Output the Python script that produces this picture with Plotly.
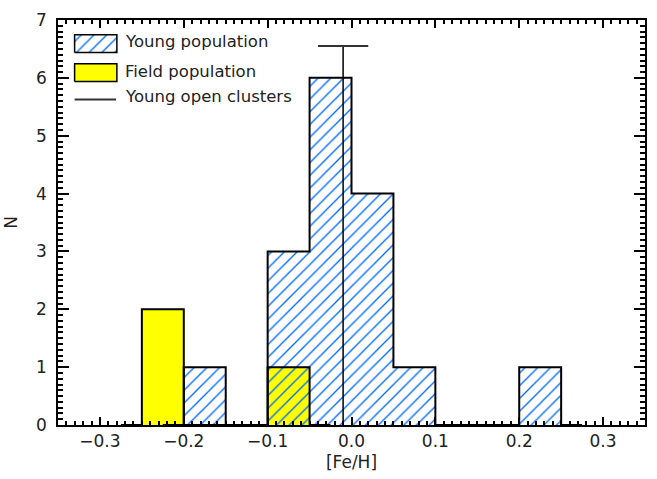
import plotly.graph_objects as go

# Histogram bins (bin centres, width 0.05 dex) and counts
young_centers = [-0.225, -0.175, -0.125, -0.075, -0.025, 0.025, 0.075, 0.125, 0.175, 0.225, 0.275]
young_counts = [0, 1, 0, 3, 6, 4, 1, 0, 0, 1, 0]
field_centers = [-0.275, -0.225, -0.175, -0.125, -0.075, -0.025]
field_counts = [0, 2, 0, 0, 1, 0]
bin_width = 0.05

# Young open clusters: mean [Fe/H], dispersion and marker height
cluster_mean = -0.01
cluster_sigma = 0.03
cluster_height = 6.55

X_RANGE = [-0.35, 0.35]
Y_RANGE = [0, 7]

HATCH = "rgb(0,105,255)"
YELLOW = "#ffff00"
FONT = "DejaVu Sans"
TXT = "#222222"
HATCH_PATTERN = dict(shape="/", fgcolor=HATCH, fgopacity=1, size=9, solidity=0.15)


def fx(f):
    """Fraction of the plot width -> data x."""
    return X_RANGE[0] + f * (X_RANGE[1] - X_RANGE[0])


def fy(f):
    """Fraction of the plot height -> data y."""
    return Y_RANGE[0] + f * (Y_RANGE[1] - Y_RANGE[0])


fig = go.Figure()

# Field population: solid yellow bars
fig.add_trace(go.Bar(
    x=field_centers, y=field_counts, width=bin_width,
    marker=dict(color=YELLOW, line=dict(width=0)),
    showlegend=False, hoverinfo="skip",
))

# Young population: hatched bars with transparent background
fig.add_trace(go.Bar(
    x=young_centers, y=young_counts, width=bin_width,
    marker=dict(color="rgba(0,0,0,0)", line=dict(width=0),
                pattern=dict(HATCH_PATTERN, bgcolor="rgba(0,0,0,0)")),
    showlegend=False, hoverinfo="skip",
))

# Step outlines of both histograms
for centers, counts in ((field_centers, field_counts), (young_centers, young_counts)):
    fig.add_trace(go.Scatter(
        x=centers, y=counts, mode="lines",
        line=dict(color="black", width=2, shape="hvh"),
        showlegend=False, hoverinfo="skip",
    ))

# Open cluster mean with its dispersion
fig.add_trace(go.Scatter(
    x=[cluster_mean, cluster_mean], y=[0, cluster_height], mode="lines",
    line=dict(color="black", width=1.5),
    showlegend=False, hoverinfo="skip",
))
fig.add_trace(go.Scatter(
    x=[cluster_mean], y=[cluster_height], mode="markers",
    marker=dict(size=1, color="rgba(0,0,0,0)"),
    error_x=dict(type="data", array=[cluster_sigma], color="#333333", thickness=2, width=0),
    showlegend=False, hoverinfo="skip",
))

# Legend key samples, placed by fractions of the plot area
lx0, lx1 = fx(0.0283), fx(0.1003)
keys = [
    (0.920, 0.9634, dict(fill="toself", fillpattern=dict(HATCH_PATTERN, bgcolor="white"))),
    (0.848, 0.892, dict(fill="toself", fillcolor=YELLOW)),
]
for b, t, fill_opts in keys:
    fig.add_trace(go.Scatter(
        x=[lx0, lx1, lx1, lx0, lx0], y=[fy(b), fy(b), fy(t), fy(t), fy(b)],
        mode="lines", line=dict(color="black", width=1.5),
        showlegend=False, hoverinfo="skip", **fill_opts,
    ))
fig.add_trace(go.Scatter(
    x=[lx0, fx(0.099)], y=[fy(0.804), fy(0.804)], mode="lines",
    line=dict(color="#333333", width=2),
    showlegend=False, hoverinfo="skip",
))

legend_labels = ["Young population", "Field population", "Young open clusters"]
legend_y = [0.947, 0.874, 0.810]
for label, ly in zip(legend_labels, legend_y):
    fig.add_annotation(
        text=label, x=0.11, y=ly, xref="paper", yref="paper",
        xanchor="left", yanchor="middle", showarrow=False,
        font=dict(family=FONT, size=16.5, color=TXT),
    )

axis_common = dict(
    showgrid=False, zeroline=False, showline=True, linecolor="black",
    linewidth=1.5, mirror="allticks", ticks="inside", tickcolor="black",
    tickwidth=1.5, tickfont=dict(family=FONT, size=17, color=TXT),
)

fig.update_layout(
    width=657, height=479,
    margin=dict(l=56, r=10, t=15, b=54),
    paper_bgcolor="white", plot_bgcolor="white",
    barmode="overlay", bargap=0,
    xaxis=dict(
        range=X_RANGE, tickmode="linear", tick0=0, dtick=0.1,
        tickformat=".1f", ticklen=8,
        minor=dict(dtick=0.01, ticks="inside", ticklen=4, tickcolor="black", tickwidth=1.5),
        title=dict(text="[Fe/H]", font=dict(family=FONT, size=17, color=TXT), standoff=6),
        **axis_common,
    ),
    yaxis=dict(
        range=Y_RANGE, tickmode="linear", tick0=0, dtick=1, ticklen=11,
        ticklabelstandoff=6,
        minor=dict(dtick=0.1, ticks="inside", ticklen=5, tickcolor="black", tickwidth=1.5),
        title=dict(text="N", font=dict(family=FONT, size=17, color=TXT), standoff=14),
        **axis_common,
    ),
)

fig.write_html("out.html")
